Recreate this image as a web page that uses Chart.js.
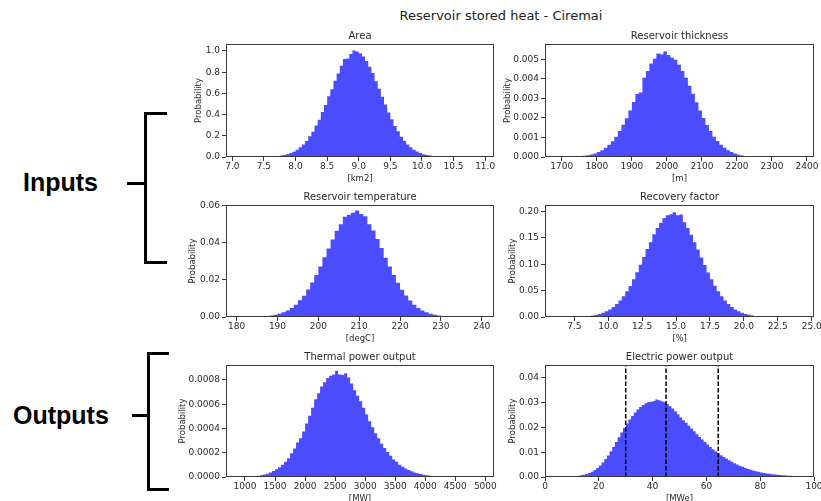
<!DOCTYPE html>
<html>
<head>
<meta charset="utf-8">
<script src="https://cdn.jsdelivr.net/npm/chart.js@4.4.1/dist/chart.umd.min.js"></script>
<style>
  html, body { margin: 0; padding: 0; width: 821px; height: 501px; overflow: hidden; background: #fff; }
  body { position: relative; font-family: 'DejaVu Sans', sans-serif; }
  canvas { position: absolute; }
  .suptitle { position: absolute; left: 351px; top: 8px; width: 300px; text-align: center;
              font: 13px/16px 'DejaVu Sans', sans-serif; color: #222; }
  .group { position: absolute; font: bold 25px/30px 'Liberation Sans', Arial, sans-serif; color: #000; }
  .bracket { position: absolute; border: 3px solid #000; border-right: none; box-sizing: border-box; }
  .stub { position: absolute; height: 3px; background: #000; }
</style>
</head>
<body>
<div class="suptitle">Reservoir stored heat - Ciremai</div>

<div class="group" style="left:23px; top:167px;">Inputs</div>
<div class="bracket" style="left:144px; top:112px; width:23px; height:152px;"></div>
<div class="stub" style="left:127px; top:182px; width:19px;"></div>

<div class="group" style="left:13px; top:400px;">Outputs</div>
<div class="bracket" style="left:147px; top:352px; width:22px; height:139px;"></div>
<div class="stub" style="left:132px; top:414px; width:17px;"></div>

<script>
// ---------- Area [km2] ----------
const areaBinStart = 7.6, areaBinWidth = 0.05;
const areaProb = [
  0.003, 0.004, 0.006, 0.009, 0.013, 0.019, 0.027, 0.038,
  0.050, 0.068, 0.092, 0.118, 0.150, 0.195, 0.238, 0.298, 0.352, 0.425,
  0.490, 0.572, 0.640, 0.720, 0.788, 0.860, 0.925, 0.930, 0.972, 1.005,
  0.995, 0.978, 0.948, 0.905, 0.852, 0.792, 0.715, 0.645, 0.568, 0.496,
  0.420, 0.357, 0.293, 0.242, 0.190, 0.153, 0.118, 0.092, 0.068, 0.052,
  0.037, 0.027, 0.019, 0.013, 0.009, 0.006, 0.004, 0.003, 0.002, 0.001
];
const areaXTicks = ['7.0', '7.5', '8.0', '8.5', '9.0', '9.5', '10.0', '10.5', '11.0'];
const areaYTicks = ['0.0', '0.2', '0.4', '0.6', '0.8', '1.0'];

// ---------- Reservoir thickness [m] ----------
const thickBinStart = 1750, thickBinWidth = 10;
const thickProb = [
  0.00002, 0.00004, 0.00006, 0.00009, 0.00013,
  0.00018, 0.00025, 0.00035, 0.00047, 0.00063, 0.00081, 0.00104, 0.00133, 0.00165, 0.00198,
  0.00238, 0.00281, 0.00322, 0.00330, 0.00405, 0.00440, 0.00478, 0.00503, 0.00530, 0.00525,
  0.00540, 0.00522, 0.00508, 0.00498, 0.00472, 0.00440, 0.00405, 0.00365, 0.00323, 0.00280,
  0.00238, 0.00199, 0.00164, 0.00133, 0.00104, 0.00082, 0.00063, 0.00047, 0.00035, 0.00025,
  0.00018, 0.00012, 0.00008, 0.00005, 0.00003, 0.00002
];
const thickXTicks = ['1700', '1800', '1900', '2000', '2100', '2200', '2300', '2400'];
const thickYTicks = ['0.000', '0.001', '0.002', '0.003', '0.004', '0.005'];

// ---------- Reservoir temperature [degC] ----------
const tempBinStart = 185, tempBinWidth = 1;
const tempProb = [
  0.00013, 0.0002, 0.00033, 0.0005, 0.0008, 0.0012, 0.0017, 0.0025, 0.0035, 0.0049,
  0.0066, 0.0090, 0.0115, 0.0148, 0.0186, 0.0226, 0.0272, 0.0322, 0.0370, 0.0418,
  0.0465, 0.0500, 0.0540, 0.0552, 0.0562, 0.0575, 0.0555, 0.0543, 0.0500, 0.0466,
  0.0420, 0.0372, 0.0320, 0.0273, 0.0227, 0.0185, 0.0147, 0.0116, 0.0089, 0.0066,
  0.0049, 0.0035, 0.0025, 0.0017, 0.0012, 0.0008, 0.0005, 0.00033, 0.0002, 0.00013,
  0.00008, 0.00005
];
const tempXTicks = ['180', '190', '200', '210', '220', '230', '240'];
const tempYTicks = ['0.00', '0.02', '0.04', '0.06'];

// ---------- Recovery factor [%] ----------
const recBinStart = 8.0, recBinWidth = 0.25;
const recProb = [
  0.0006, 0.0009, 0.0013, 0.0020, 0.0029, 0.0041, 0.0057, 0.0079, 0.0107, 0.0143,
  0.0189, 0.0245, 0.0313, 0.0394, 0.0488, 0.0590, 0.0715, 0.0850, 0.0990, 0.1140,
  0.1290, 0.1420, 0.1570, 0.1690, 0.1790, 0.1880, 0.1930, 0.1950, 0.1990, 0.1930,
  0.1945, 0.1800, 0.1690, 0.1560, 0.1420, 0.1280, 0.1130, 0.0985, 0.0845, 0.0715,
  0.0595, 0.0488, 0.0394, 0.0313, 0.0245, 0.0189, 0.0143, 0.0107, 0.0079, 0.0057,
  0.0041, 0.0029, 0.0020, 0.0013, 0.0009, 0.0006, 0.0004
];
const recXTicks = ['7.5', '10.0', '12.5', '15.0', '17.5', '20.0', '22.5', '25.0'];
const recYTicks = ['0.00', '0.05', '0.10', '0.15', '0.20'];

// ---------- Thermal power output [MW] ----------
const thermBinStart = 1050, thermBinWidth = 50;
const thermProb = [
  0.000003, 0.000004, 0.000006, 0.000008, 0.000011, 0.000015, 0.00002, 0.000027, 0.000038, 0.00005,
  0.000063, 0.00008, 0.0001, 0.000125, 0.000155, 0.000195, 0.000235, 0.000285, 0.00032, 0.000375,
  0.00044, 0.000505, 0.00057, 0.00064, 0.00069, 0.000745, 0.00078, 0.000815, 0.000835, 0.000845,
  0.000875, 0.000845, 0.00084, 0.000855, 0.00082, 0.00077, 0.000715, 0.00067, 0.000625, 0.00057,
  0.000515, 0.00046, 0.00041, 0.00036, 0.00032, 0.000275, 0.00024, 0.000205, 0.000175, 0.000145,
  0.000125, 0.0001, 0.000085, 0.00007, 0.000058, 0.000047, 0.000038, 0.00003, 0.000024, 0.000019,
  0.000015, 0.000012, 0.000009, 0.000007, 0.000006, 0.000005, 0.000004, 0.000003, 0.000003, 0.000002
];
const thermXTicks = ['1000', '1500', '2000', '2500', '3000', '3500', '4000', '4500', '5000'];
const thermYTicks = ['0.0000', '0.0002', '0.0004', '0.0006', '0.0008'];

// ---------- Electric power output [MWe] ----------
const elecBinStart = 10, elecBinWidth = 1;
const elecProb = [
  0.0001, 0.0002, 0.0003, 0.0005, 0.0007, 0.0009, 0.0012, 0.0016, 0.0021, 0.0028,
  0.0036, 0.0046, 0.0058, 0.0072, 0.0087, 0.0104, 0.0122, 0.0141, 0.0160, 0.0179,
  0.0197, 0.0215, 0.0232, 0.0246, 0.0260, 0.0272, 0.0282, 0.0290, 0.0297, 0.0302,
  0.0303, 0.0306, 0.0312, 0.0309, 0.0305, 0.0301, 0.0294, 0.0285, 0.0276, 0.0265,
  0.0253, 0.0240, 0.0229, 0.0218, 0.0206, 0.0195, 0.0184, 0.0172, 0.0161, 0.0151,
  0.0141, 0.0131, 0.0121, 0.0112, 0.0104, 0.0096, 0.0088, 0.0081, 0.0074, 0.0067,
  0.0061, 0.0055, 0.0050, 0.0045, 0.0041, 0.0036, 0.0032, 0.0029, 0.0026, 0.0023,
  0.0021, 0.0018, 0.0016, 0.0014, 0.0013, 0.0011, 0.0010, 0.0009, 0.0008, 0.0007,
  0.0006, 0.0005, 0.0005, 0.0004, 0.0004, 0.0003, 0.0003, 0.0003, 0.0002
];
const elecXTicks = ['0', '20', '40', '60', '80', '100'];
const elecYTicks = ['0.00', '0.01', '0.02', '0.03', '0.04'];
// P10 / P50 / P90 markers
const elecMarkers = [30, 45, 64.4];

// ---------- Layout of the six panels ----------
const panels = [
  { title: 'Area', xTitle: '[km2]', start: areaBinStart, width: areaBinWidth, prob: areaProb,
    xTicks: areaXTicks, yTicks: areaYTicks, xMin: 6.9, xMax: 11.14, yMax: 1.066,
    box: { left: 226, top: 44, right: 494, bottom: 157 }, yTitleX: 199 },
  { title: 'Reservoir thickness', xTitle: '[m]', start: thickBinStart, width: thickBinWidth, prob: thickProb,
    xTicks: thickXTicks, yTicks: thickYTicks, xMin: 1652, xMax: 2420, yMax: 0.00578,
    box: { left: 545, top: 44, right: 814, bottom: 157 }, yTitleX: 508 },
  { title: 'Reservoir temperature', xTitle: '[degC]', start: tempBinStart, width: tempBinWidth, prob: tempProb,
    xTicks: tempXTicks, yTicks: tempYTicks, xMin: 177.4, xMax: 243.0, yMax: 0.0604,
    box: { left: 226, top: 205, right: 494, bottom: 317 }, yTitleX: 193 },
  { title: 'Recovery factor', xTitle: '[%]', start: recBinStart, width: recBinWidth, prob: recProb,
    xTicks: recXTicks, yTicks: recYTicks, xMin: 5.34, xMax: 25.17, yMax: 0.2126,
    box: { left: 545, top: 205, right: 814, bottom: 317 }, yTitleX: 513 },
  { title: 'Thermal power output', xTitle: '[MW]', start: thermBinStart, width: thermBinWidth, prob: thermProb,
    xTicks: thermXTicks, yTicks: thermYTicks, xMin: 684, xMax: 5144, yMax: 0.000923,
    box: { left: 226, top: 365, right: 494, bottom: 477 }, yTitleX: 183 },
  { title: 'Electric power output', xTitle: '[MWe]', start: elecBinStart, width: elecBinWidth, prob: elecProb,
    xTicks: elecXTicks, yTicks: elecYTicks, xMin: 0, xMax: 100, yMax: 0.0451, markers: elecMarkers,
    box: { left: 545, top: 365, right: 814, bottom: 477 }, yTitleX: 513 }
];

const TEXT = '#2a2a2a';
const SPINE = '#3a3a3a';
const BAR = 'rgba(0, 0, 255, 0.7)';
Chart.defaults.font.family = "'DejaVu Sans', sans-serif";

// Box around each axes, like matplotlib spines
const spinesPlugin = {
  id: 'spines',
  afterDraw(chart) {
    const { ctx, chartArea: a } = chart;
    ctx.save();
    ctx.strokeStyle = SPINE;
    ctx.lineWidth = 1;
    ctx.strokeRect(Math.round(a.left) + 0.5, Math.round(a.top) + 0.5,
                   Math.round(a.right - a.left) - 1, Math.round(a.bottom - a.top) - 1);
    ctx.restore();
  }
};

function histogramPoints(start, width, prob) {
  const pts = prob.map((v, i) => ({ x: start + i * width, y: v }));
  pts.push({ x: start + prob.length * width, y: 0 });
  return pts;
}

panels.forEach(p => {
  const cLeft = Math.round(p.yTitleX - 5);
  const cTop = p.box.top - 14;
  const w = p.box.right + 16 - cLeft;
  const h = p.box.bottom + 27 - cTop;
  const yAxisWidth = p.box.left - cLeft;

  const canvas = document.createElement('canvas');
  canvas.width = w;
  canvas.height = h;
  canvas.style.left = cLeft + 'px';
  canvas.style.top = cTop + 'px';
  canvas.style.width = w + 'px';
  canvas.style.height = h + 'px';
  document.body.appendChild(canvas);

  const datasets = [{
    data: histogramPoints(p.start, p.width, p.prob),
    stepped: 'after',
    fill: 'origin',
    backgroundColor: BAR,
    borderColor: 'rgba(0,0,0,0)',
    borderWidth: 0,
    pointRadius: 0,
    order: 2
  }];
  (p.markers || []).forEach(m => {
    datasets.push({
      data: [{ x: m, y: 0 }, { x: m, y: p.yMax }],
      borderColor: '#000',
      borderWidth: 1.5,
      borderDash: [4.5, 2],
      pointRadius: 0,
      fill: false,
      order: 1
    });
  });

  const tickGrid = { display: true, drawOnChartArea: false, drawTicks: true, tickLength: 4, color: SPINE, lineWidth: 1 };

  new Chart(canvas, {
    type: 'line',
    data: { datasets },
    options: {
      responsive: false,
      animation: false,
      events: [],
      layout: { padding: { left: 0, top: 0, right: 16, bottom: 0 } },
      plugins: {
        legend: { display: false },
        tooltip: { enabled: false },
        title: {
          display: true, text: p.title, fullSize: false, color: TEXT,
          font: { size: 10, weight: 'normal' }, padding: { top: 0, bottom: 2 }
        }
      },
      scales: {
        x: {
          type: 'linear', min: p.xMin, max: p.xMax, bounds: 'data',
          afterBuildTicks: s => { s.ticks = p.xTicks.map(t => ({ value: parseFloat(t) })); },
          afterFit: s => { s.height = 27; },
          ticks: { autoSkip: false, maxRotation: 0, minRotation: 0, padding: 0, color: TEXT,
                   font: { size: 9 }, callback: (v, i) => p.xTicks[i] },
          grid: tickGrid,
          border: { display: false },
          title: { display: true, text: p.xTitle, color: TEXT, font: { size: 8.5 }, padding: { top: 0, bottom: 0 } }
        },
        y: {
          type: 'linear', min: 0, max: p.yMax, bounds: 'data',
          afterBuildTicks: s => { s.ticks = p.yTicks.map(t => ({ value: parseFloat(t) })); },
          afterFit: s => { s.width = yAxisWidth; },
          ticks: { autoSkip: false, padding: 2, color: TEXT, font: { size: 9 },
                   callback: (v, i) => p.yTicks[i] },
          grid: tickGrid,
          border: { display: false },
          title: { display: true, text: 'Probability', color: TEXT, font: { size: 8.5 }, padding: { top: 0, bottom: 0 } }
        }
      }
    },
    plugins: [spinesPlugin]
  });
});
</script>
</body>
</html>
